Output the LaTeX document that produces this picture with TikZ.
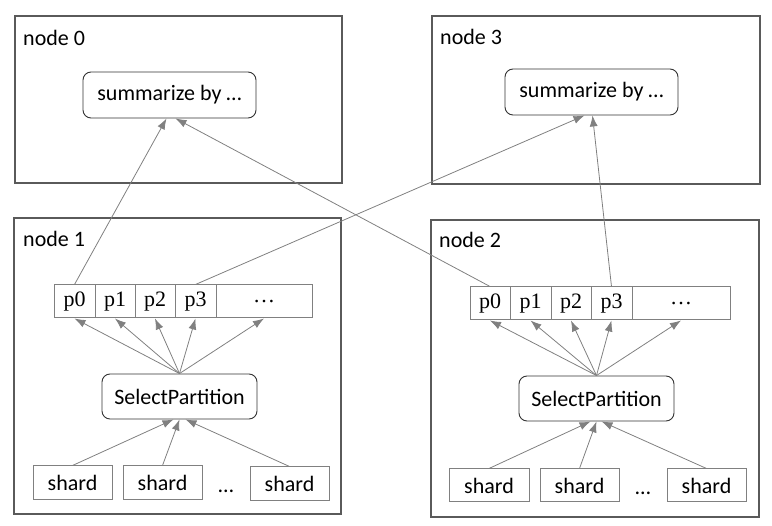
\documentclass[tikz,border=0pt]{standalone}
\usepackage{fontspec}
\setmainfont{Carlito}
\newfontfamily\timesf{Liberation Serif}
\usetikzlibrary{arrows.meta,calc}
\definecolor{frameC}{HTML}{5A5A5A}
\definecolor{lineC}{HTML}{808080}
\definecolor{rbC}{HTML}{333333}
\tikzset{
  frame/.style={draw=frameC,line width=1.3pt},
  lab/.style={anchor=base west,inner sep=0pt,font=\fontsize{22}{26}\selectfont},
  rbox/.style={draw=rbC,line width=0.9pt,rounded corners=8pt,inner sep=0pt,font=\fontsize{22}{26}\selectfont},
  sbox/.style={draw=lineC,line width=1pt,inner sep=0pt,font=\fontsize{22}{26}\selectfont},
  cell/.style={draw=lineC,line width=1pt,inner sep=0pt,font=\timesf\fontsize{22}{26}\selectfont},
  conn/.style={draw=lineC,line width=0.8pt,-{Latex[length=11pt,width=8pt]}},
  dots/.style={anchor=base,inner sep=0pt,font=\fontsize{22}{26}\selectfont}
}
\begin{document}
\begin{tikzpicture}[x=1pt,y=-1pt]
\useasboundingbox (0,0) rectangle (772,526);
% frames
\draw[frame] (15,16) rectangle (342,183);
\draw[frame] (432,16) rectangle (760,184);
\draw[frame] (14,218) rectangle (341,514);
\draw[frame] (431,220) rectangle (759,517);
\node[lab] (l0) at (23,46) {node 0};
\node[lab] (l3) at (440,45) {node 3};
\node[lab] (l1) at (23,247) {node 1};
\node[lab] (l2) at (439,248) {node 2};
% summarize boxes
\node[rbox,minimum width=173pt,minimum height=46pt] (sum0) at (169.5,95) {summarize by …};
\node[rbox,minimum width=173pt,minimum height=46pt] (sum3) at (591.5,92) {summarize by …};
% node 1 partitions
\node[cell,minimum width=41pt,minimum height=33pt] (ap0) at (74.5,301.5) {p0};
\node[cell,minimum width=40pt,minimum height=33pt] (ap1) at (115,301.5) {p1};
\node[cell,minimum width=40pt,minimum height=33pt] (ap2) at (155,301.5) {p2};
\node[cell,minimum width=41pt,minimum height=33pt] (ap3) at (195.5,301.5) {p3};
\node[cell,minimum width=96pt,minimum height=33pt] (apd) at (264,301.5) {…};
% node 2 partitions
\node[cell,minimum width=40pt,minimum height=33pt] (bp0) at (490,303.5) {p0};
\node[cell,minimum width=41pt,minimum height=33pt] (bp1) at (530.5,303.5) {p1};
\node[cell,minimum width=40pt,minimum height=33pt] (bp2) at (571,303.5) {p2};
\node[cell,minimum width=41pt,minimum height=33pt] (bp3) at (611.5,303.5) {p3};
\node[cell,minimum width=98pt,minimum height=33pt] (bpd) at (681,303.5) {…};
% select partition
\node[rbox,minimum width=155pt,minimum height=45pt] (asp) at (179.5,396.5) {SelectPartition};
\node[rbox,minimum width=155pt,minimum height=45pt] (bsp) at (596.5,398.5) {SelectPartition};
% shards node 1
\node[sbox,minimum width=79pt,minimum height=34pt] (as1) at (72.5,483) {shard};
\node[sbox,minimum width=79pt,minimum height=34pt] (as2) at (162.5,483) {shard};
\node[sbox,minimum width=79pt,minimum height=34pt] (as3) at (289.5,484) {shard};
\node[dots] (ad) at (226,493) {…};
% shards node 2
\node[sbox,minimum width=80pt,minimum height=33pt] (bs1) at (489,485.5) {shard};
\node[sbox,minimum width=79pt,minimum height=33pt] (bs2) at (579.5,485.5) {shard};
\node[sbox,minimum width=79pt,minimum height=33pt] (bs3) at (706.5,485.5) {shard};
\node[dots] (bd) at (643,495) {…};
% arrows SP -> partitions
\foreach \p in {ap0,ap1,ap2,ap3,apd} \draw[conn] (asp.north) -- (\p.south);
\foreach \p in {bp0,bp1,bp2,bp3,bpd} \draw[conn] (bsp.north) -- (\p.south);
% shards -> SP
\draw[conn] (as1.north) -- ($(asp.south)+(-6,0)$);
\draw[conn] (as2.north) -- (asp.south);
\draw[conn] (as3.north) -- ($(asp.south)+(6,0)$);
\draw[conn] (bs1.north) -- ($(bsp.south)+(-6,0)$);
\draw[conn] (bs2.north) -- (bsp.south);
\draw[conn] (bs3.north) -- ($(bsp.south)+(5,0)$);
% cross arrows
\draw[conn] (ap0.north) -- ($(sum0.south)+(-3,0)$);
\draw[conn] (bp0.north) -- ($(sum0.south)+(6,0)$);
\draw[conn] (ap3.north) -- ($(sum3.south)+(-7,0)$);
\draw[conn] (bp3.north) -- ($(sum3.south)+(1,0)$);
\end{tikzpicture}
\end{document}
